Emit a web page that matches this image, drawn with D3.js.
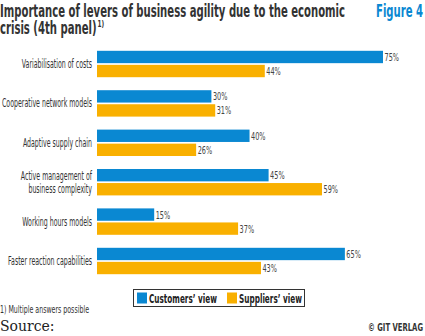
<!DOCTYPE html>
<meta charset="utf-8">
<html>
  <head>
    <script src="https://d3js.org/d3.v7.min.js"></script>
    <style>
      body { margin: 0; background: #fff; }
      svg text { font-family: "DejaVu Sans Condensed", "Liberation Sans Narrow", sans-serif; }
    </style>
  </head>
  <body>
    <div id="chart"></div>
    <script>
      const levers = ["Variabilisation of costs", "Cooperative network models", "Adaptive supply chain",
        ["Active management of", "business complexity"], "Working hours models", "Faster reaction capabilities"];
      const customersView = [75, 30, 40, 45, 15, 65];
      const suppliersView = [44, 31, 26, 59, 37, 43];
      const seriesNames = ["Customers\u2019 view", "Suppliers\u2019 view"];
      const colors = ["#0a88d2", "#f9b000"];

      const width = 425, height = 336;
      const svg = d3.select("#chart").append("svg")
        .attr("width", width).attr("height", height);

      // squeeze a group of text nodes horizontally by one common factor
      function squeeze(nodes, k) {
        nodes.forEach(n => {
          const w = n.getComputedTextLength();
          d3.select(n).attr("textLength", w * k).attr("lengthAdjust", "spacingAndGlyphs");
        });
      }
      const factor = (node, target) => target / node.getComputedTextLength();

      // title
      const title = svg.append("text").attr("fill", "#333").attr("font-weight", "bold").attr("font-size", 17);
      const t1 = title.append("tspan").attr("x", 0).attr("y", 17).text("Importance of levers of business agility due to the economic");
      const t2 = title.append("tspan").attr("x", 0).attr("y", 34).text("crisis (4th panel)");
      const kt = factor(t1.node(), 345);
      const t2w = t2.node().getComputedTextLength() * kt;
      squeeze([t1.node(), t2.node()], kt);
      const sup = svg.append("text").attr("x", t2w + 1).attr("y", 27)
        .attr("font-size", 8).attr("font-weight", "bold").attr("fill", "#333").text("1)");
      squeeze([sup.node()], 0.8);
      const fig = svg.append("text").attr("x", 376).attr("y", 17)
        .attr("fill", colors[0]).attr("font-weight", "bold").attr("font-size", 17).text("Figure 4");
      squeeze([fig.node()], factor(fig.node(), 47));

      const x = d3.scaleLinear().domain([0, 75]).range([97, 383]);
      const y = d3.scaleBand().domain(d3.range(levers.length)).range([44.5, 280.5]).paddingInner(0.33).paddingOuter(0.16);
      const sub = d3.scaleBand().domain([0, 1]).range([0, y.bandwidth()]).paddingInner(0.12);

      const rows = levers.map((name, i) => ({ name, i, values: [customersView[i], suppliersView[i]] }));
      const g = svg.selectAll("g.row").data(rows).join("g")
        .attr("class", "row").attr("transform", d => `translate(0,${y(d.i)})`);

      g.selectAll("rect").data(d => d.values).join("rect")
        .attr("x", x(0)).attr("y", (v, k) => sub(k))
        .attr("width", v => x(v) - x(0)).attr("height", sub.bandwidth())
        .attr("fill", (v, k) => colors[k]);

      const vals = g.selectAll("text.val").data(d => d.values).join("text")
        .attr("class", "val")
        .attr("x", v => x(v) + 1.5).attr("y", (v, k) => sub(k) + sub.bandwidth() / 2 + 4)
        .attr("font-size", 11).attr("fill", "#444").text(v => v + "%");
      squeeze(vals.nodes(), factor(vals.node(), 14.5));

      g.append("text").attr("class", "cat")
        .attr("text-anchor", "end").attr("font-size", 11.5).attr("fill", "#333")
        .each(function (d) {
          const lines = Array.isArray(d.name) ? d.name : [d.name];
          const mid = y.bandwidth() / 2 + 4 - (lines.length - 1) * 6.5;
          lines.forEach((l, j) => d3.select(this).append("tspan")
            .attr("x", 92).attr("y", mid + j * 13).text(l));
        });
      const cats = g.selectAll("text.cat tspan").nodes();
      squeeze(cats, factor(cats[1], 90));

      // legend
      const legend = svg.append("g");
      legend.append("rect").attr("x", 133.5).attr("y", 289.5).attr("width", 171).attr("height", 17)
        .attr("fill", "#fff").attr("stroke", "#333").attr("stroke-width", 1);
      const items = [{ x: 137, w: 68 }, { x: 227, w: 63 }];
      items.forEach((it, k) => {
        legend.append("rect").attr("x", it.x).attr("y", 292.5).attr("width", 10).attr("height", 11).attr("fill", colors[k]);
        const lt = legend.append("text").attr("x", it.x + 12).attr("y", 302.5).attr("font-size", 13).attr("font-weight", "bold")
          .attr("fill", "#222").text(seriesNames[k]);
        squeeze([lt.node()], factor(lt.node(), it.w));
      });

      const note = svg.append("text").attr("x", 0).attr("y", 313).attr("font-size", 10.5).attr("fill", "#333")
        .text("1) Multiple answers possible");
      squeeze([note.node()], factor(note.node(), 89));
      svg.append("text").attr("x", 0).attr("y", 331).attr("font-size", 14).attr("fill", "#222")
        .style("font-family", "'DejaVu Serif', 'Liberation Serif', serif").text("Source:");
      const cr = svg.append("text").attr("x", 368).attr("y", 331).attr("font-size", 11)
        .attr("font-weight", "bold").attr("fill", "#333").text("\u00a9 GIT VERLAG");
      squeeze([cr.node()], factor(cr.node(), 55));
    </script>
  </body>
</html>
